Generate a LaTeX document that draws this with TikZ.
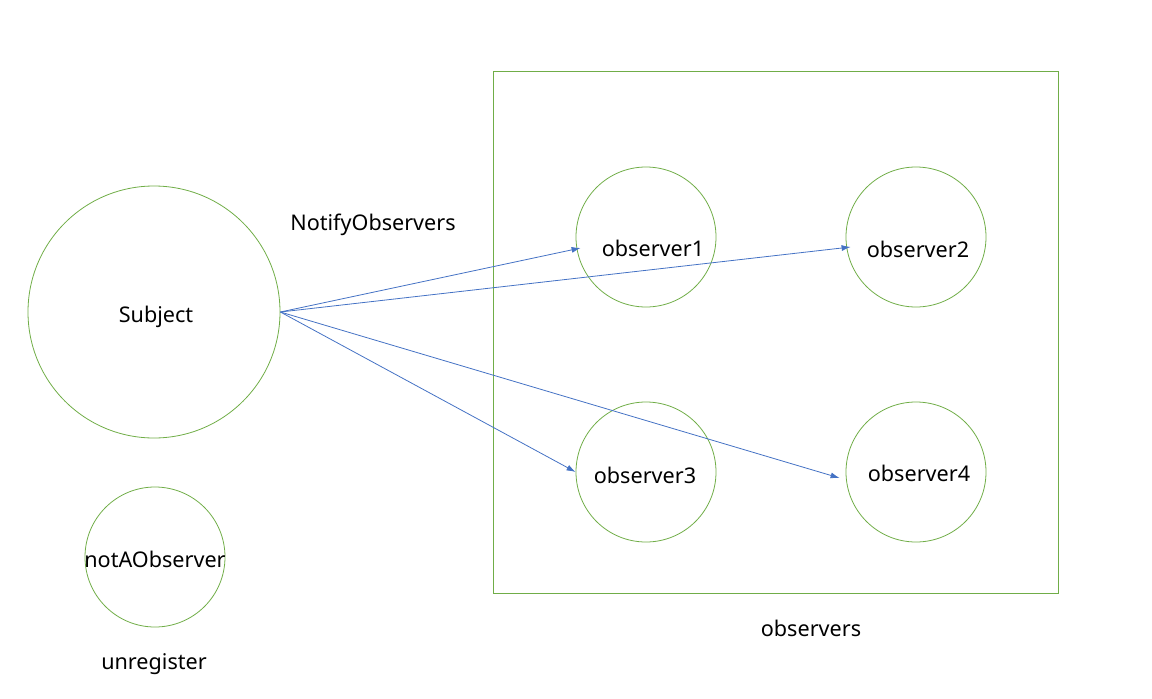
\documentclass[tikz,border=0pt]{standalone}
\usepackage{fontspec}
\setmainfont{Noto Sans}
\usepackage{tikz}
\usetikzlibrary{arrows.meta}
\definecolor{obsgreen}{HTML}{70AD47}
\definecolor{msgblue}{HTML}{4472C4}
\tikzset{
  party/.style={shape=circle,draw=obsgreen,line width=0.8pt,inner sep=0pt},
  observer/.style={party,minimum size=140pt},
  notify/.style={draw=msgblue,line width=0.8pt,-{Latex[length=9pt,width=6pt]}},
  caption/.style={font=\fontsize{21.6}{26}\selectfont}
}

\begin{document}
\begin{tikzpicture}[x=1pt,y=-1pt]
      \useasboundingbox (0,0) rectangle (1152,699);
      \node[draw=obsgreen,line width=0.8pt,minimum width=565pt,minimum height=522pt] (group) at (775.5,332) {};
      \node[party,minimum size=252pt,label={[caption,xshift=2pt,yshift=-5pt]center:Subject}] (subject) at (154,312) {};
      \node[observer,label={[caption,yshift=-2pt]center:notAObserver}] (loner) at (155,557) {};
      \node[observer,label={[caption,xshift=7pt,yshift=-11pt]center:observer1}] (obs1) at (646,237) {};
      \node[observer,label={[caption,xshift=2pt,yshift=-12pt]center:observer2}] (obs2) at (916,237) {};
      \node[observer,label={[caption,xshift=-1pt,yshift=-3pt]center:observer3}] (obs3) at (646,472) {};
      \node[observer,label={[caption,xshift=3pt,yshift=-1pt]center:observer4}] (obs4) at (916,472) {};
      \node[caption] (notifylbl) at (373,225) {NotifyObservers};
      \node[caption] (grouplbl) at (811,628) {observers};
      \node[caption] (unreglbl) at (154,664) {unregister};
      \begin{scope}[every path/.style={notify}]
        \draw (subject.east) -- ([xshift=5pt,yshift=-11pt]obs1.west);
        \draw (subject.east) -- ([xshift=5pt,yshift=-10pt]obs2.west);
        \draw (subject.east) -- (obs3.west);
        \draw (subject.east) -- ([xshift=-6pt,yshift=-6pt]obs4.west);
      \end{scope}
    \end{tikzpicture}
\end{document}
